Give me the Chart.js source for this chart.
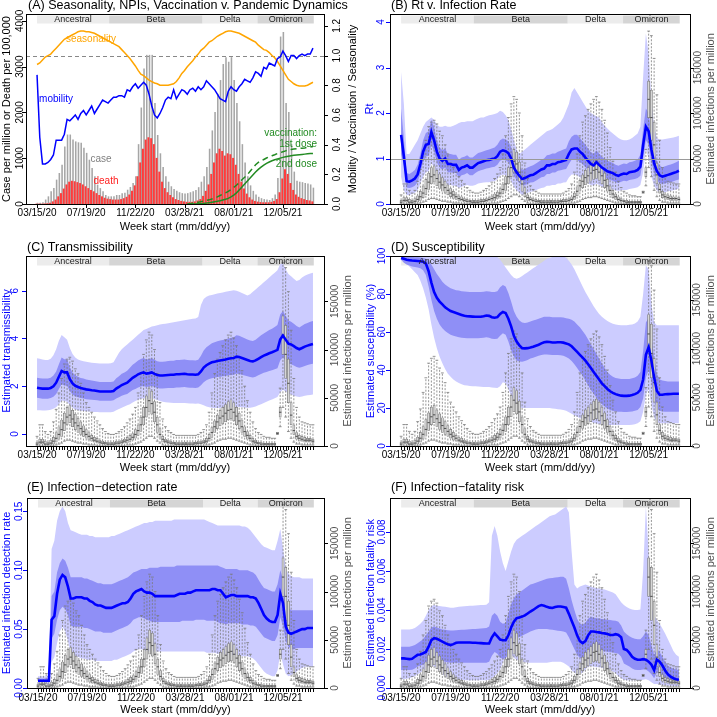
<!DOCTYPE html>
<html><head><meta charset="utf-8">
<script src="https://cdn.jsdelivr.net/npm/chart.js@4"></script>
<style>
html,body{margin:0;padding:0;background:#fff;width:717px;height:717px;overflow:hidden;}
canvas{position:absolute;left:0;top:0;}
</style></head><body>
<canvas id="cA" width="717" height="717"></canvas>
<canvas id="cB" width="717" height="717"></canvas>
<canvas id="cC" width="717" height="717"></canvas>
<canvas id="cD" width="717" height="717"></canvas>
<canvas id="cE" width="717" height="717"></canvas>
<canvas id="cF" width="717" height="717"></canvas>
<script>
// ---------- categories / tick labels ----------
const weekTickPos = [0,18,36,54,72,90];
const weekTickLabels = ['03/15/20','07/19/20','11/22/20','03/28/21','08/01/21','12/05/21'];
const variantNames = ['Ancestral','Beta','Delta','Omicron'];
const variantStart = [0,26.4,60.6,80.7];
const variantEnd = [26.4,60.6,80.7,101.3];
const ticksA_left = [0,1000,2000,3000,4000];
const labelsA_left = ['0','1000','2000','3000','4000'];
const ticksA_right = [0,0.2,0.4,0.6,0.8,1.0,1.2];
const labelsA_right = ['0.0','0.2','0.4','0.6','0.8','1.0','1.2'];
const ticksInf = [0,50000,100000,150000];
const labelsInf = ['0','50000','100000','150000'];
const ticksRt = [0,1,2,3,4];
const labelsRt = ['0','1','2','3','4'];
const ticksTr = [0,2,4,6];
const labelsTr = ['0','2','4','6'];
const ticksSu = [0,20,40,60,80,100];
const labelsSu = ['0','20','40','60','80','100'];
const ticksId = [0,0.05,0.10,0.15];
const labelsId = ['0.00','0.05','0.10','0.15'];
const ticksIfr = [0,0.002,0.004,0.006,0.008];
const labelsIfr = ['0.000','0.002','0.004','0.006','0.008'];

// ---------- Panel A series ----------
const caseBars = [20,20,30,90,160,270,340,525,670,850,
1250,1510,1510,1400,1360,1340,1330,1220,1110,960,
780,600,415,340,270,190,160,160,160,190,
190,230,240,305,365,450,600,1300,2100,2950,
3250,3250,3250,2200,1500,1100,800,600,480,380,
320,280,250,230,220,230,250,270,300,360,
480,600,800,1200,1600,2000,2400,2700,3050,3200,
3100,3200,2700,2200,1800,1300,900,600,400,280,
200,150,120,100,90,80,120,200,560,3650,
3750,2200,2000,1300,700,500,480,470,450,440,
420,350];
const deathBars = [0,0,0,5,10,20,50,90,160,230,
330,420,480,500,490,470,450,420,380,340,
300,270,230,190,160,130,110,100,90,90,
90,100,120,150,200,280,400,600,900,1200,
1400,1450,1430,1300,1000,700,480,340,250,190,
140,100,80,60,50,40,40,40,50,70,
100,170,280,420,650,900,1100,1200,1150,1050,
1100,1080,1000,850,650,480,330,220,140,90,
60,45,35,30,30,30,40,60,100,250,
550,750,650,450,300,200,150,120,100,80,
70,50];
const seasonality = [0.94,0.95,0.97,0.99,1.00,1.01,1.03,1.05,1.07,1.09,
1.11,1.12,1.13,1.14,1.15,1.16,1.165,1.165,1.16,1.16,
1.155,1.15,1.14,1.13,1.12,1.11,1.10,1.09,1.08,1.07,
1.06,1.04,1.02,1.00,0.98,0.955,0.93,0.90,0.875,0.865,
0.85,0.835,0.825,0.815,0.81,0.80,0.80,0.80,0.80,0.805,
0.81,0.825,0.85,0.88,0.90,0.925,0.945,0.965,0.99,1.01,
1.035,1.05,1.07,1.09,1.10,1.115,1.13,1.14,1.15,1.16,
1.165,1.165,1.16,1.155,1.15,1.14,1.13,1.12,1.11,1.10,
1.09,1.07,1.055,1.04,1.035,1.02,1.00,0.985,0.96,0.93,
0.90,0.87,0.84,0.825,0.81,0.80,0.795,0.795,0.795,0.80,
0.81,0.82];
const mobility = [0.87,0.45,0.27,0.27,0.28,0.30,0.33,0.43,0.43,0.43,
0.47,0.57,0.56,0.58,0.60,0.57,0.61,0.63,0.60,0.63,
0.66,0.61,0.64,0.67,0.70,0.69,0.68,0.70,0.72,0.72,
0.73,0.73,0.72,0.77,0.76,0.79,0.81,0.78,0.80,0.82,
0.80,0.74,0.66,0.60,0.58,0.61,0.65,0.70,0.72,0.71,
0.77,0.71,0.74,0.77,0.76,0.74,0.77,0.78,0.76,0.79,
0.77,0.79,0.83,0.81,0.79,0.77,0.74,0.71,0.70,0.69,
0.76,0.79,0.77,0.76,0.79,0.81,0.84,0.83,0.82,0.85,
0.89,0.88,0.86,0.92,0.91,0.95,0.94,0.93,0.98,0.99,
1.03,1.00,0.96,1.00,1.00,0.98,1.00,1.01,1.00,1.01,
1.01,1.05];
const vaccStartWeek = 55;
const vaccFirst = [0,0.002,0.005,0.008,0.012,0.016,0.02,0.024,0.028,0.034,
0.04,0.048,0.057,0.066,0.075,0.085,0.098,0.112,0.126,0.145,
0.163,0.18,0.198,0.22,0.243,0.265,0.28,0.29,0.30,0.31,
0.318,0.325,0.332,0.34,0.346,0.352,0.358,0.363,0.367,0.37,
0.372,0.374,0.376,0.378,0.381,0.384,0.387];
const vaccSecond = [0,0,0,0,0.001,0.002,0.004,0.006,0.009,0.012,
0.015,0.018,0.022,0.027,0.032,0.038,0.048,0.06,0.075,0.095,
0.115,0.135,0.155,0.175,0.195,0.215,0.233,0.248,0.262,0.274,
0.283,0.291,0.298,0.304,0.309,0.314,0.318,0.322,0.325,0.328,
0.33,0.332,0.334,0.336,0.338,0.34,0.341];

// ---------- estimated infections per million (boxplots, panels B-F) ----------
const infLo = [0,0,0,0,0,0,0,1000,2000,3000,
5000,6000,6000,5000,4000,3000,3000,2000,2000,1000,
1000,1000,0,0,0,0,0,0,0,0,
0,0,0,1000,1000,1000,2000,3000,4000,6000,
8000,10000,10000,8000,5000,3000,1000,0,0,0,
0,0,0,0,0,0,0,0,0,0,
0,0,1000,1000,2000,3000,5000,6000,7000,7000,
8000,8000,7000,6000,5000,4000,3000,2000,1000,1000,
0,0,0,0,0,0,0,0,12000,20000,
40000,30000,15000,8000,4000,2000,2000,1000,1000,1000,
1000,1000];
const infQ1 = [1000,2000,2000,1000,1000,1000,2000,4000,7000,10000,
16000,22000,24000,20000,17000,14000,12000,10000,8000,6000,
5000,4000,3000,2000,2000,1000,1000,1000,1000,1000,
2000,2000,3000,3000,4000,6000,8000,11000,15000,22000,
30000,35000,33000,25000,14000,8000,4000,3000,2000,2000,
1000,1000,1000,1000,1000,1000,1000,1000,1000,2000,
2000,2000,3000,5000,9000,14000,18000,21000,23000,25000,
27000,28000,26000,22000,18000,14000,10000,7000,5000,3000,
2000,2000,1000,1000,1000,1000,1000,1000,13000,30000,
95000,70000,45000,22000,12000,7000,5000,5000,4000,4000,
4000,3000];
const infMed = [2000,4000,4000,2000,2000,3000,5000,8000,12000,17000,
24000,30000,32000,28000,24000,21000,18000,15000,12000,10000,
8000,6000,5000,4000,3000,3000,2000,2000,2000,3000,
3000,4000,5000,6000,7000,9000,12000,16000,22000,30000,
40000,47000,44000,35000,22000,12000,7000,5000,4000,3000,
3000,2000,2000,2000,2000,2000,2000,2000,3000,3000,
3000,4000,5000,8000,14000,20000,25000,29000,31000,34000,
37000,38000,35000,31000,26000,20000,15000,11000,8000,5000,
4000,3000,2000,2000,2000,2000,2000,2000,13000,35000,
115000,95000,65000,32000,16000,10000,8000,7000,6000,6000,
6000,5000];
const infQ3 = [4000,7000,7000,5000,4000,6000,9000,14000,20000,27000,
34000,40000,42000,37000,33000,29000,25000,21000,17000,14000,
11000,9000,8000,6000,5000,4000,4000,4000,4000,5000,
5000,6000,7000,9000,11000,13000,17000,22000,30000,40000,
52000,60000,57000,46000,30000,18000,10000,7000,6000,5000,
4000,4000,4000,4000,4000,4000,4000,4000,4000,5000,
5000,6000,8000,12000,19000,26000,32000,37000,40000,43000,
46000,48000,45000,40000,34000,27000,20000,15000,11000,8000,
6000,4000,4000,3000,3000,3000,3000,3000,14000,40000,
135000,125000,90000,45000,22000,14000,11000,10000,9000,8000,
8000,7000];
const infHi = [10000,22000,22000,15000,12000,15000,25000,38000,55000,70000,
85000,90000,92000,88000,80000,75000,65000,55000,45000,40000,
35000,30000,26000,22000,18000,15000,13000,12000,12000,13000,
15000,17000,20000,24000,28000,33000,40000,55000,75000,95000,
110000,118000,115000,100000,75000,45000,28000,20000,16000,14000,
12000,11000,11000,11000,11000,11000,11000,11000,11000,12000,
14000,17000,22000,35000,55000,75000,90000,97000,104000,110000,
115000,118000,112000,104000,92000,78000,62000,47000,35000,25000,
18000,14000,12000,10000,9000,9000,8000,8000,14000,60000,
190000,185000,160000,120000,70000,40000,30000,25000,24000,23000,
22000,22000];

// ---------- Panel B: Rt ----------
const rtMed = [1.52,1.05,0.50,0.49,0.52,0.56,0.65,0.88,1.15,1.30,
1.32,1.58,1.40,1.15,1.00,0.95,1.00,0.88,0.88,0.86,
0.86,0.75,0.80,0.82,0.85,0.80,0.80,0.85,0.90,0.92,
0.94,0.96,0.97,0.99,1.00,1.05,1.15,1.18,1.16,1.12,
1.00,0.80,0.70,0.62,0.55,0.57,0.60,0.63,0.64,0.68,
0.72,0.76,0.78,0.85,0.85,0.88,0.88,0.92,0.93,0.95,
0.97,1.10,1.20,1.22,1.22,1.15,1.10,1.02,0.95,0.88,
0.85,0.92,0.86,0.80,0.76,0.72,0.70,0.68,0.64,0.62,
0.65,0.67,0.66,0.70,0.71,0.72,0.75,0.82,1.30,1.70,
1.60,1.20,0.90,0.72,0.63,0.60,0.62,0.64,0.66,0.68,
0.70,0.73];
const rtDarkHi = [2.10,1.45,0.68,0.66,0.70,0.75,0.86,1.10,1.40,1.56,
1.60,1.85,1.68,1.40,1.24,1.18,1.22,1.10,1.10,1.08,
1.08,0.97,1.02,1.04,1.07,1.02,1.02,1.07,1.12,1.14,
1.16,1.18,1.20,1.22,1.24,1.30,1.40,1.44,1.42,1.38,
1.25,1.03,0.92,0.83,0.75,0.77,0.80,0.83,0.85,0.89,
0.93,0.97,1.00,1.07,1.08,1.11,1.11,1.15,1.17,1.20,
1.22,1.38,1.48,1.52,1.52,1.45,1.38,1.30,1.22,1.14,
1.10,1.18,1.11,1.04,1.00,0.95,0.93,0.90,0.86,0.84,
0.87,0.89,0.88,0.92,0.93,0.95,0.98,1.08,1.65,2.10,
2.00,1.52,1.15,0.94,0.84,0.81,0.83,0.85,0.87,0.89,
0.92,0.95];
const rtDarkLo = [1.10,0.85,0.36,0.35,0.37,0.40,0.48,0.68,0.92,1.05,
1.06,1.30,1.15,0.92,0.80,0.76,0.80,0.70,0.70,0.68,
0.68,0.58,0.63,0.65,0.68,0.63,0.63,0.68,0.72,0.74,
0.76,0.78,0.79,0.81,0.82,0.86,0.95,0.98,0.96,0.92,
0.80,0.62,0.53,0.46,0.40,0.42,0.44,0.47,0.48,0.51,
0.55,0.59,0.60,0.66,0.66,0.69,0.69,0.73,0.74,0.76,
0.77,0.88,0.97,0.98,0.98,0.92,0.88,0.81,0.75,0.68,
0.66,0.72,0.67,0.61,0.58,0.55,0.53,0.51,0.48,0.46,
0.49,0.51,0.50,0.53,0.54,0.55,0.57,0.62,1.00,1.40,
1.30,0.92,0.68,0.53,0.46,0.44,0.45,0.47,0.48,0.50,
0.52,0.54];
const rtLightHi = [2.90,2.20,1.10,1.10,1.20,1.30,1.40,1.55,1.70,1.80,
1.85,1.90,1.85,1.75,1.70,1.70,1.72,1.70,1.70,1.72,
1.75,1.78,1.80,1.80,1.82,1.82,1.82,1.85,1.88,1.90,
1.90,1.93,1.95,1.96,1.98,2.00,2.05,2.02,1.95,1.85,
1.65,1.40,1.20,1.10,1.15,1.20,1.25,1.30,1.35,1.40,
1.45,1.50,1.55,1.60,1.62,1.65,1.70,1.75,1.80,1.90,
2.05,2.20,2.45,2.55,2.45,2.35,2.25,2.15,2.05,2.00,
1.96,1.93,1.90,1.80,1.72,1.66,1.60,1.55,1.50,1.45,
1.42,1.40,1.40,1.42,1.45,1.50,1.55,1.70,2.80,3.75,
3.30,2.30,1.70,1.45,1.42,1.42,1.43,1.44,1.45,1.46,
1.48,1.50];
const rtLightLo = [0.60,0.30,0.20,0.20,0.22,0.25,0.30,0.45,0.60,0.70,
0.72,0.90,0.80,0.60,0.50,0.45,0.48,0.42,0.42,0.40,
0.40,0.35,0.38,0.40,0.42,0.40,0.40,0.42,0.45,0.46,
0.47,0.48,0.48,0.50,0.50,0.55,0.62,0.65,0.63,0.60,
0.50,0.38,0.30,0.25,0.20,0.22,0.25,0.27,0.28,0.30,
0.33,0.35,0.36,0.40,0.40,0.42,0.42,0.45,0.45,0.47,
0.48,0.58,0.65,0.65,0.63,0.58,0.55,0.50,0.45,0.42,
0.40,0.45,0.42,0.38,0.36,0.34,0.33,0.32,0.30,0.29,
0.30,0.31,0.31,0.33,0.34,0.35,0.37,0.42,0.70,1.20,
1.00,0.60,0.40,0.30,0.25,0.24,0.26,0.28,0.29,0.30,
0.32,0.34];

// ---------- Panel C: transmissibility ----------
const trMed = [1.94,1.92,1.90,1.90,1.90,1.93,2.00,2.15,2.40,2.64,
2.58,2.58,2.30,2.12,2.02,1.97,1.93,1.90,1.87,1.85,
1.83,1.82,1.80,1.78,1.78,1.78,1.78,1.78,1.80,1.90,
1.97,2.05,2.10,2.15,2.25,2.35,2.42,2.50,2.55,2.58,
2.53,2.55,2.58,2.52,2.47,2.45,2.45,2.46,2.47,2.48,
2.48,2.50,2.50,2.51,2.52,2.50,2.49,2.49,2.48,2.50,
2.62,2.78,2.88,2.95,3.00,3.03,3.06,3.08,3.10,3.12,
3.15,3.17,3.18,3.24,3.22,3.18,3.14,3.10,3.06,3.04,
3.08,3.15,3.22,3.28,3.33,3.38,3.42,3.47,3.52,3.95,
4.12,3.95,3.78,3.75,3.68,3.60,3.55,3.60,3.66,3.70,
3.74,3.77];
const trDarkHi = [2.36,2.34,2.32,2.32,2.32,2.36,2.45,2.62,2.92,3.20,
3.13,3.12,2.80,2.58,2.46,2.40,2.35,2.32,2.28,2.26,
2.24,2.22,2.20,2.18,2.18,2.18,2.18,2.18,2.20,2.33,
2.42,2.52,2.58,2.65,2.77,2.90,2.98,3.08,3.14,3.18,
3.12,3.14,3.18,3.11,3.05,3.03,3.03,3.04,3.06,3.07,
3.07,3.10,3.10,3.11,3.12,3.10,3.09,3.09,3.08,3.11,
3.28,3.50,3.63,3.72,3.80,3.84,3.88,3.91,3.94,3.97,
4.00,4.03,4.05,4.13,4.11,4.06,4.01,3.96,3.91,3.89,
3.95,4.04,4.13,4.21,4.28,4.35,4.41,4.48,4.56,5.00,
5.15,4.95,4.75,4.70,4.62,4.52,4.46,4.53,4.60,4.65,
4.70,4.73];
const trDarkLo = [1.52,1.50,1.48,1.48,1.48,1.51,1.56,1.68,1.88,2.08,
2.03,2.02,1.80,1.66,1.58,1.54,1.51,1.49,1.46,1.45,
1.43,1.42,1.41,1.39,1.39,1.39,1.39,1.39,1.41,1.49,
1.54,1.60,1.64,1.68,1.76,1.84,1.89,1.95,1.99,2.01,
1.97,1.99,2.01,1.97,1.93,1.91,1.91,1.92,1.93,1.93,
1.93,1.95,1.95,1.96,1.97,1.95,1.94,1.94,1.93,1.95,
2.04,2.17,2.25,2.30,2.34,2.36,2.39,2.40,2.42,2.43,
2.46,2.47,2.48,2.53,2.51,2.48,2.45,2.42,2.39,2.37,
2.40,2.46,2.51,2.56,2.60,2.64,2.67,2.71,2.75,3.08,
3.21,3.08,2.95,2.92,2.87,2.81,2.77,2.81,2.85,2.89,
2.92,2.94];
const trLightHi = [3.17,3.15,3.12,3.10,3.10,3.15,3.30,3.55,3.90,4.14,
4.05,3.95,3.60,3.35,3.20,3.12,3.08,3.05,3.02,3.00,
2.98,2.97,2.96,2.95,2.95,2.95,2.95,2.96,3.00,3.20,
3.40,3.55,3.65,3.75,3.85,3.95,4.05,4.15,4.25,4.35,
4.40,4.45,4.50,4.52,4.55,4.58,4.60,4.62,4.64,4.66,
4.68,4.70,4.72,4.74,4.76,4.78,4.80,4.82,4.84,4.90,
5.40,5.65,5.75,5.80,5.82,5.85,5.88,5.90,5.92,5.95,
5.97,6.00,6.02,6.00,5.95,5.90,5.85,5.80,5.85,5.95,
6.05,6.15,6.25,6.35,6.45,6.55,6.65,6.75,6.85,7.10,
7.15,6.90,6.70,6.60,6.50,6.40,6.45,6.55,6.62,6.68,
6.72,6.75];
const trLightLo = [1.00,1.00,0.99,0.99,1.00,1.02,1.06,1.12,1.25,1.40,
1.38,1.35,1.20,1.10,1.03,1.00,0.98,0.96,0.95,0.94,
0.93,0.92,0.92,0.91,0.91,0.91,0.91,0.91,0.93,1.00,
1.05,1.10,1.15,1.20,1.25,1.32,1.38,1.43,1.47,1.50,
1.48,1.48,1.50,1.47,1.42,1.38,1.35,1.33,1.32,1.31,
1.30,1.30,1.30,1.30,1.30,1.29,1.28,1.28,1.27,1.28,
1.25,1.20,1.15,1.12,1.10,1.09,1.09,1.09,1.10,1.10,
1.11,1.12,1.13,1.14,1.13,1.12,1.11,1.10,1.10,1.12,
1.15,1.20,1.25,1.30,1.35,1.40,1.45,1.50,1.55,1.75,
1.85,1.78,1.70,1.65,1.60,1.57,1.55,1.57,1.60,1.62,
1.63,1.65];

// ---------- Panel D: susceptibility ----------
const suMed = [99.0,98.5,98.0,97.8,97.6,97.5,97.4,97.2,97.0,96.0,
92.0,86.0,81.0,78.0,76.0,74.5,73.0,72.0,71.0,70.5,
70.0,69.5,69.0,68.5,68.3,68.2,68.1,68.0,68.0,68.0,
68.3,68.7,68.5,67.8,67.5,67.8,69.5,70.5,70.0,67.0,
63.0,58.0,55.0,53.0,51.5,51.4,51.5,51.8,52.2,52.8,
53.3,54.0,54.6,54.8,54.7,54.5,54.5,54.6,54.6,54.4,
54.0,53.5,52.5,51.0,49.5,48.0,46.5,45.0,43.0,41.0,
39.0,37.0,35.0,33.0,31.5,30.0,28.8,28.0,27.3,26.8,
26.5,26.4,26.4,26.5,26.8,27.3,28.0,29.5,35.0,48.0,
52.0,45.0,36.0,29.0,27.0,27.0,27.2,27.3,27.4,27.5,
27.5,27.5];
const suDarkHi = [100,100,99.8,99.6,99.5,99.4,99.3,99.2,99.0,98.5,
97.5,95.5,93.0,90.5,88.5,86.5,85.0,84.0,83.0,82.5,
82.0,81.8,81.5,81.3,81.2,81.0,81.0,81.0,81.0,81.0,
81.2,81.5,81.3,81.0,81.0,81.5,83.5,84.7,84.0,80.5,
76.0,71.0,68.0,66.0,65.0,64.8,65.0,65.5,66.0,66.5,
67.0,67.5,68.0,68.0,68.0,67.8,67.8,67.8,67.8,67.6,
67.3,67.0,66.5,65.5,64.0,62.5,60.5,58.5,56.0,53.5,
51.0,48.5,46.0,43.5,41.0,39.0,37.5,36.5,35.8,35.5,
35.3,35.2,35.2,35.3,35.6,36.0,37.0,39.0,50.0,65.0,
67.5,58.0,46.0,38.0,35.0,34.5,34.2,34.0,34.0,34.0,
34.0,34.0];
const suDarkLo = [98.0,96.5,95.5,95.0,94.5,94.2,94.0,93.5,92.5,90.0,
84.0,77.0,71.0,67.0,64.0,62.0,60.5,59.5,58.5,58.0,
57.6,57.2,57.0,56.8,56.7,56.7,56.7,56.7,56.7,56.8,
57.0,57.3,57.0,56.5,56.3,56.5,58.0,59.3,58.5,55.0,
50.5,47.0,45.0,44.5,44.4,44.8,45.3,46.0,46.5,47.0,
47.5,47.9,48.2,48.2,48.0,47.9,47.9,47.9,47.8,47.5,
46.8,46.0,44.8,43.0,41.0,39.0,37.0,34.5,32.0,29.5,
27.5,25.5,23.5,22.0,20.8,19.8,19.0,18.5,18.2,18.0,
18.0,17.9,17.9,18.0,18.2,18.5,19.0,20.5,25.0,36.0,
40.0,34.0,25.0,19.5,18.5,18.2,18.0,18.0,18.0,18.0,
18.0,18.0];
const suLightHi = [100,100,100,100,100,100,100,100,100,100,
100,100,100,100,100,100,100,100,100,100,
100,100,100,100,100,100,100,100,100,100,
100,100,100,100,100,99.5,98.0,96.0,94.0,92.0,
90.0,88.5,88.0,88.5,89.5,90.5,91.5,92.5,93.5,94.5,
95.5,96.5,97.5,98.5,99.0,99.5,100,100,100,100,
99.0,97.5,95.5,93.0,90.0,87.0,84.0,81.0,78.5,76.0,
73.5,71.5,69.5,68.0,66.8,65.8,65.0,64.4,64.0,63.7,
63.5,63.5,63.6,63.8,64.0,64.5,65.5,68.0,80.0,95.0,
93.0,75.0,65.0,63.5,63.5,63.5,63.5,63.5,63.5,63.5,
63.5,63.5];
const suLightLo = [98.5,97.5,96.0,94.5,93.0,91.5,90.0,87.0,83.0,78.0,
72.0,64.0,57.0,51.5,47.0,43.5,40.5,38.0,36.5,35.0,
34.0,33.2,32.5,32.0,31.8,31.6,31.5,31.4,31.3,31.2,
31.1,31.0,31.0,30.8,30.6,30.5,31.5,33.5,33.0,30.0,
26.5,23.5,21.5,20.5,20.0,20.0,20.0,20.0,20.0,20.0,
20.0,20.0,20.0,20.0,20.0,19.8,19.6,19.4,19.2,19.0,
18.5,17.8,17.0,16.2,15.4,14.8,14.2,13.6,13.0,12.6,
12.2,11.9,11.6,11.4,11.2,11.1,11.0,11.0,11.0,11.0,
11.0,11.0,11.0,11.0,11.2,11.5,12.0,13.0,18.0,27.0,
30.0,22.0,15.0,12.5,12.0,12.0,12.0,12.0,12.0,12.0,
12.0,12.0];

// ---------- Panel E: infection-detection rate ----------
const idMed = [0.0062,0.0062,0.0062,0.0062,0.0062,0.058,0.061,0.080,0.092,0.096,
0.094,0.086,0.076,0.076,0.077,0.077,0.077,0.076,0.076,0.074,
0.073,0.071,0.070,0.070,0.069,0.068,0.068,0.068,0.069,0.070,
0.071,0.072,0.072,0.073,0.076,0.080,0.082,0.083,0.084,0.082,
0.081,0.081,0.080,0.078,0.078,0.078,0.078,0.078,0.078,0.078,
0.078,0.079,0.080,0.080,0.080,0.081,0.081,0.082,0.083,0.083,
0.083,0.083,0.083,0.083,0.084,0.084,0.083,0.083,0.080,0.077,
0.078,0.079,0.079,0.078,0.078,0.078,0.078,0.078,0.077,0.077,
0.076,0.072,0.067,0.062,0.059,0.057,0.056,0.056,0.062,0.080,
0.072,0.052,0.047,0.046,0.047,0.048,0.049,0.050,0.050,0.051,
0.051,0.051];
const idDarkHi = [0.008,0.008,0.008,0.008,0.008,0.078,0.082,0.098,0.106,0.110,
0.108,0.102,0.094,0.094,0.094,0.094,0.094,0.093,0.093,0.092,
0.091,0.090,0.089,0.089,0.088,0.088,0.088,0.088,0.089,0.090,
0.091,0.092,0.093,0.094,0.096,0.098,0.099,0.100,0.101,0.101,
0.101,0.102,0.102,0.102,0.102,0.103,0.103,0.103,0.103,0.103,
0.103,0.104,0.104,0.104,0.104,0.104,0.104,0.104,0.104,0.104,
0.104,0.104,0.104,0.104,0.104,0.104,0.104,0.103,0.102,0.101,
0.101,0.101,0.101,0.101,0.100,0.100,0.100,0.100,0.099,0.098,
0.096,0.092,0.088,0.085,0.084,0.083,0.082,0.082,0.088,0.100,
0.092,0.075,0.068,0.066,0.066,0.066,0.066,0.066,0.066,0.066,
0.066,0.066];
const idDarkLo = [0.005,0.005,0.005,0.005,0.005,0.042,0.046,0.058,0.066,0.069,
0.067,0.062,0.053,0.052,0.052,0.052,0.052,0.051,0.051,0.050,
0.049,0.048,0.048,0.048,0.047,0.047,0.047,0.047,0.048,0.049,
0.050,0.051,0.052,0.053,0.055,0.058,0.059,0.060,0.060,0.059,
0.058,0.057,0.056,0.056,0.056,0.056,0.056,0.056,0.056,0.056,
0.056,0.056,0.056,0.057,0.057,0.057,0.057,0.057,0.058,0.058,
0.058,0.058,0.057,0.057,0.057,0.057,0.056,0.055,0.055,0.054,
0.055,0.055,0.055,0.055,0.055,0.054,0.054,0.054,0.053,0.053,
0.052,0.049,0.046,0.043,0.042,0.041,0.040,0.040,0.045,0.060,
0.052,0.040,0.035,0.033,0.033,0.034,0.034,0.034,0.034,0.034,
0.034,0.034];
const idLightHi = [0.010,0.010,0.010,0.010,0.010,0.118,0.125,0.142,0.150,0.154,
0.150,0.140,0.134,0.133,0.132,0.131,0.130,0.130,0.130,0.129,
0.129,0.128,0.128,0.128,0.128,0.128,0.128,0.129,0.129,0.130,
0.131,0.132,0.133,0.134,0.135,0.136,0.137,0.138,0.139,0.140,
0.140,0.141,0.141,0.142,0.142,0.142,0.142,0.142,0.142,0.142,
0.143,0.143,0.143,0.143,0.143,0.143,0.143,0.143,0.143,0.143,
0.143,0.143,0.142,0.141,0.140,0.139,0.138,0.138,0.138,0.138,
0.138,0.138,0.138,0.138,0.138,0.137,0.137,0.136,0.134,0.131,
0.128,0.125,0.122,0.120,0.119,0.118,0.117,0.117,0.125,0.135,
0.118,0.102,0.097,0.095,0.094,0.094,0.094,0.093,0.093,0.093,
0.093,0.093];
const idLightLo = [0.003,0.003,0.003,0.003,0.003,0.022,0.026,0.038,0.048,0.052,
0.048,0.040,0.030,0.028,0.027,0.026,0.025,0.025,0.024,0.024,
0.024,0.023,0.023,0.023,0.023,0.023,0.023,0.023,0.024,0.024,
0.025,0.026,0.027,0.028,0.029,0.031,0.032,0.033,0.033,0.032,
0.031,0.031,0.031,0.031,0.031,0.031,0.031,0.031,0.031,0.031,
0.031,0.031,0.031,0.031,0.031,0.031,0.031,0.031,0.031,0.031,
0.031,0.031,0.030,0.030,0.030,0.030,0.029,0.029,0.029,0.028,
0.028,0.028,0.028,0.028,0.027,0.027,0.027,0.027,0.026,0.025,
0.023,0.020,0.017,0.014,0.012,0.011,0.010,0.010,0.015,0.030,
0.020,0.012,0.010,0.011,0.012,0.014,0.016,0.017,0.018,0.018,
0.018,0.018];

// ---------- Panel F: infection-fatality risk ----------
const ifrMed = [0.00152,0.00152,0.00150,0.00148,0.00150,0.00160,0.00170,0.00172,0.00178,0.00185,
0.00212,0.00245,0.00255,0.00252,0.00245,0.00238,0.00230,0.00224,0.00220,0.00225,
0.00232,0.00233,0.00233,0.00233,0.00233,0.00233,0.00232,0.00232,0.00231,0.00230,
0.00229,0.00228,0.00228,0.00260,0.00280,0.00265,0.00248,0.00245,0.00245,0.00270,
0.00310,0.00340,0.00358,0.00362,0.00366,0.00372,0.00382,0.00392,0.00400,0.00410,
0.00420,0.00425,0.00422,0.00416,0.00412,0.00410,0.00415,0.00418,0.00418,0.00415,
0.00412,0.00380,0.00345,0.00310,0.00270,0.00240,0.00230,0.00240,0.00270,0.00290,
0.00290,0.00287,0.00285,0.00282,0.00280,0.00277,0.00272,0.00272,0.00276,0.00272,
0.00260,0.00200,0.00195,0.00180,0.00160,0.00150,0.00145,0.00145,0.00148,0.00145,
0.00135,0.00120,0.00092,0.00145,0.00135,0.00115,0.00090,0.00070,0.00058,0.00050,
0.00045,0.00042];
const ifrDarkHi = [0.00212,0.00212,0.00212,0.00212,0.00215,0.00220,0.00230,0.00240,0.00250,0.00270,
0.00290,0.00310,0.00315,0.00310,0.00305,0.00300,0.00298,0.00296,0.00295,0.00295,
0.00296,0.00297,0.00298,0.00299,0.00300,0.00301,0.00302,0.00303,0.00304,0.00305,
0.00306,0.00307,0.00315,0.00370,0.00385,0.00370,0.00340,0.00330,0.00335,0.00380,
0.00430,0.00460,0.00480,0.00490,0.00500,0.00510,0.00520,0.00530,0.00535,0.00540,
0.00545,0.00550,0.00555,0.00560,0.00562,0.00564,0.00566,0.00568,0.00570,0.00570,
0.00560,0.00510,0.00450,0.00400,0.00355,0.00330,0.00325,0.00335,0.00355,0.00365,
0.00360,0.00358,0.00356,0.00354,0.00352,0.00350,0.00348,0.00346,0.00345,0.00340,
0.00320,0.00290,0.00275,0.00265,0.00258,0.00252,0.00250,0.00250,0.00265,0.00290,
0.00270,0.00220,0.00170,0.00200,0.00185,0.00160,0.00135,0.00115,0.00105,0.00100,
0.00095,0.00092];
const ifrDarkLo = [0.00092,0.00092,0.00092,0.00092,0.00094,0.00100,0.00110,0.00115,0.00120,0.00130,
0.00145,0.00160,0.00165,0.00160,0.00150,0.00140,0.00135,0.00132,0.00130,0.00130,
0.00130,0.00130,0.00130,0.00130,0.00130,0.00130,0.00130,0.00130,0.00130,0.00130,
0.00130,0.00130,0.00135,0.00165,0.00185,0.00175,0.00155,0.00150,0.00150,0.00175,
0.00215,0.00240,0.00255,0.00262,0.00268,0.00275,0.00282,0.00290,0.00295,0.00300,
0.00302,0.00303,0.00303,0.00302,0.00300,0.00298,0.00296,0.00294,0.00292,0.00290,
0.00285,0.00260,0.00230,0.00200,0.00170,0.00155,0.00150,0.00160,0.00180,0.00190,
0.00192,0.00192,0.00190,0.00189,0.00188,0.00186,0.00184,0.00182,0.00180,0.00175,
0.00160,0.00125,0.00118,0.00110,0.00100,0.00094,0.00092,0.00092,0.00095,0.00095,
0.00085,0.00070,0.00050,0.00080,0.00075,0.00060,0.00050,0.00040,0.00032,0.00028,
0.00025,0.00022];
const ifrLightHi = [0.00300,0.00300,0.00300,0.00300,0.00302,0.00308,0.00318,0.00330,0.00345,0.00370,
0.00400,0.00420,0.00425,0.00422,0.00420,0.00418,0.00416,0.00414,0.00412,0.00412,
0.00414,0.00416,0.00418,0.00419,0.00420,0.00421,0.00422,0.00423,0.00424,0.00425,
0.00426,0.00427,0.00440,0.00780,0.00830,0.00780,0.00700,0.00640,0.00600,0.00650,
0.00700,0.00740,0.00760,0.00770,0.00780,0.00790,0.00800,0.00810,0.00820,0.00830,
0.00840,0.00850,0.00860,0.00870,0.00880,0.00885,0.00890,0.00900,0.00910,0.00920,
0.00930,0.00900,0.00700,0.00530,0.00510,0.00520,0.00525,0.00530,0.00525,0.00520,
0.00515,0.00512,0.00510,0.00508,0.00505,0.00500,0.00495,0.00490,0.00480,0.00460,
0.00440,0.00425,0.00415,0.00408,0.00403,0.00400,0.00400,0.00402,0.00600,0.00930,
0.00700,0.00420,0.00370,0.00350,0.00330,0.00305,0.00280,0.00250,0.00220,0.00190,
0.00170,0.00160];
const ifrLightLo = [0.00045,0.00045,0.00048,0.00050,0.00055,0.00060,0.00070,0.00080,0.00090,0.00100,
0.00110,0.00115,0.00112,0.00100,0.00085,0.00070,0.00060,0.00055,0.00050,0.00047,
0.00045,0.00043,0.00042,0.00041,0.00040,0.00040,0.00040,0.00040,0.00040,0.00040,
0.00040,0.00040,0.00042,0.00050,0.00060,0.00075,0.00095,0.00130,0.00170,0.00180,
0.00170,0.00155,0.00145,0.00140,0.00135,0.00132,0.00130,0.00130,0.00130,0.00130,
0.00130,0.00130,0.00130,0.00130,0.00132,0.00134,0.00135,0.00135,0.00134,0.00130,
0.00120,0.00110,0.00090,0.00080,0.00070,0.00070,0.00080,0.00095,0.00110,0.00112,
0.00110,0.00108,0.00106,0.00104,0.00100,0.00095,0.00090,0.00085,0.00075,0.00060,
0.00050,0.00042,0.00040,0.00040,0.00040,0.00040,0.00040,0.00040,0.00042,0.00045,
0.00040,0.00030,0.00020,0.00020,0.00018,0.00016,0.00014,0.00012,0.00011,0.00010,
0.00010,0.00010];

// ---------- drawing ----------
const FONT = '"Liberation Sans", Arial, Helvetica, sans-serif';
const LIGHT = '#ccccff';
const DARK = '#8f8ff6';
const BLUE = '#0000ff';
const GREYTXT = '#505050';

function xy(arr, start) { const s = start || 0; return arr.map((v, i) => ({x: s + i, y: v})); }

const PANELS = {
  cA: {area:[26,14,324,204], y:[0,4150], y2:[0,1.28],
    left:{ticks:ticksA_left, labels:labelsA_left, color:'#000', labelX:20, title:'Case per million or Death per 100,000', titleX:7, titleColor:'#000'},
    right:{ticks:ticksA_right, labels:labelsA_right, color:'#000', labelX:337, title:'Mobility / Vaccination / Seasonality', titleX:353, titleColor:'#000'},
    xLabelY:213, xTitleY:227, weekly:false,
    title:'(A) Seasonality, NPIs, Vaccination v. Pandemic Dynamics', titleX:28, titleEnd:348, titleY:6,
    ref:{axis:'y2', value:1, color:'#888', dash:[4,3], back:true},
    notes:[{t:'seasonality',x:91,y:39,c:'#ffa500',a:'center'},{t:'mobility',x:56,y:99,c:BLUE,a:'center'},
           {t:'case',x:101,y:159,c:'#808080',a:'center'},{t:'death',x:106,y:181,c:'#ff2020',a:'center'},
           {t:'vaccination:',x:317,y:133,c:'#228b22',a:'right'},{t:'1st dose',x:317,y:144,c:'#228b22',a:'right'},
           {t:'2nd dose',x:317,y:164,c:'#228b22',a:'right'}]},
  cB: {area:[390,14,690,204], y:[0,4.176], y2:[0,208800],
    left:{ticks:ticksRt, labels:labelsRt, color:BLUE, labelX:381, title:'Rt', titleX:370, titleColor:BLUE},
    right:{ticks:ticksInf, labels:labelsInf, color:GREYTXT, labelX:698, title:'Estimated infections per million', titleX:711, titleColor:GREYTXT},
    xLabelY:213, xTitleY:227, weekly:true,
    title:'(B) Rt v. Infection Rate', titleX:391, titleY:6,
    ref:{axis:'y', value:1, color:'#999', dash:[], back:false}},
  cC: {area:[26,256,324,446], y:[-0.5,7.45], y2:[0,197000],
    left:{ticks:ticksTr, labels:labelsTr, color:BLUE, labelX:15, title:'Estimated transmissibility', titleX:7, titleColor:BLUE},
    right:{ticks:ticksInf, labels:labelsInf, color:GREYTXT, labelX:335, title:'Estimated infections per million', titleX:348, titleColor:GREYTXT},
    xLabelY:455, xTitleY:468, weekly:true,
    title:'(C) Transmissibility', titleX:27, titleY:248},
  cD: {area:[390,256,690,446], y:[0,100], y2:[0,195000],
    left:{ticks:ticksSu, labels:labelsSu, color:BLUE, labelX:382, title:'Estimated susceptibility (%)', titleX:371, titleColor:BLUE},
    right:{ticks:ticksInf, labels:labelsInf, color:GREYTXT, labelX:697, title:'Estimated infections per million', titleX:711, titleColor:GREYTXT},
    xLabelY:455, xTitleY:468, weekly:true,
    title:'(D) Susceptibility', titleX:391, titleY:248},
  cE: {area:[27,498,324,688], y:[0,0.1613], y2:[0,197000],
    left:{ticks:ticksId, labels:labelsId, color:BLUE, labelX:19, title:'Estimated infection detection rate', titleX:7, titleColor:BLUE},
    right:{ticks:ticksInf, labels:labelsInf, color:GREYTXT, labelX:335, title:'Estimated infections per million', titleX:348, titleColor:GREYTXT},
    xLabelY:698, xTitleY:710, weekly:true,
    title:'(E) Infection\u2212detection rate', titleX:27, titleY:488},
  cF: {area:[390,498,690,688], y:[0,0.00974], y2:[0,197000],
    left:{ticks:ticksIfr, labels:labelsIfr, color:BLUE, labelX:382, title:'Estimated infection fatality risk', titleX:371, titleColor:BLUE},
    right:{ticks:ticksInf, labels:labelsInf, color:GREYTXT, labelX:697, title:'Estimated infections per million', titleX:711, titleColor:GREYTXT},
    xLabelY:698, xTitleY:710, weekly:true,
    title:'(F) Infection\u2212fatality risk', titleX:391, titleY:488}
};

function vtext(ctx, txt, x, y) {
  ctx.save(); ctx.translate(x, y); ctx.rotate(-Math.PI / 2); ctx.fillText(txt, 0, 0); ctx.restore();
}

const rdecor = {
  id: 'rdecor',
  beforeDatasetsDraw(chart) {
    const P = PANELS[chart.canvas.id];
    const ctx = chart.ctx, a = chart.chartArea, sx = chart.scales.x;
    ctx.save();
    for (let i = 0; i < variantNames.length; i++) {
      const x0 = sx.getPixelForValue(variantStart[i]), x1 = sx.getPixelForValue(variantEnd[i]);
      ctx.fillStyle = i % 2 === 0 ? '#ececec' : '#d5d5d5';
      ctx.fillRect(x0, a.top + 1.5, x1 - x0, 8);
    }
    if (P.ref && P.ref.back) {
      const yy = Math.round(chart.scales[P.ref.axis].getPixelForValue(P.ref.value)) + 0.5;
      ctx.strokeStyle = P.ref.color; ctx.lineWidth = 1; ctx.setLineDash(P.ref.dash);
      ctx.beginPath(); ctx.moveTo(a.left, yy); ctx.lineTo(a.right, yy); ctx.stroke();
    }
    ctx.restore();
  },
  afterDatasetsDraw(chart) {
    const P = PANELS[chart.canvas.id];
    const ctx = chart.ctx, a = chart.chartArea, sx = chart.scales.x, sy = chart.scales.y, sy2 = chart.scales.y2;
    ctx.save();
    if (P.ref && !P.ref.back) {
      const yy = Math.round(chart.scales[P.ref.axis].getPixelForValue(P.ref.value)) + 0.5;
      ctx.strokeStyle = P.ref.color; ctx.lineWidth = 1; ctx.setLineDash(P.ref.dash);
      ctx.beginPath(); ctx.moveTo(a.left, yy); ctx.lineTo(a.right, yy); ctx.stroke();
      ctx.setLineDash([]);
    }
    ctx.font = '9px ' + FONT; ctx.fillStyle = '#222'; ctx.textAlign = 'center'; ctx.textBaseline = 'middle';
    for (let i = 0; i < variantNames.length; i++) {
      const x0 = sx.getPixelForValue(variantStart[i]), x1 = sx.getPixelForValue(variantEnd[i]);
      ctx.fillText(variantNames[i], (x0 + x1) / 2, a.top + 5.5);
    }
    ctx.strokeStyle = '#000'; ctx.lineWidth = 1;
    ctx.strokeRect(Math.round(a.left) + 0.5, Math.round(a.top) + 0.5, Math.round(a.right - a.left), Math.round(a.bottom - a.top));
    ctx.beginPath();
    const xt = [];
    if (P.weekly) { for (let w = 0; w < infMed.length; w++) xt.push(w); } else { weekTickPos.forEach(w => xt.push(w)); }
    xt.forEach(w => { const px = Math.round(sx.getPixelForValue(w)) + 0.5; ctx.moveTo(px, a.bottom); ctx.lineTo(px, a.bottom + 4); });
    ctx.stroke();
    ctx.fillStyle = '#000'; ctx.font = '10px ' + FONT; ctx.textAlign = 'center'; ctx.textBaseline = 'middle';
    weekTickPos.forEach((w, i) => ctx.fillText(weekTickLabels[i], sx.getPixelForValue(w), P.xLabelY));
    ctx.font = '11px ' + FONT;
    ctx.fillText('Week start (mm/dd/yy)', (a.left + a.right) / 2, P.xTitleY);
    const L = P.left;
    ctx.strokeStyle = L.color; ctx.beginPath();
    L.ticks.forEach(v => { const py = Math.round(sy.getPixelForValue(v)) + 0.5; ctx.moveTo(a.left, py); ctx.lineTo(a.left - 4, py); });
    ctx.stroke();
    ctx.fillStyle = L.color; ctx.font = '10px ' + FONT;
    L.ticks.forEach((v, i) => vtext(ctx, L.labels[i], L.labelX, sy.getPixelForValue(v)));
    ctx.fillStyle = L.titleColor; ctx.font = '11px ' + FONT;
    vtext(ctx, L.title, L.titleX, (a.top + a.bottom) / 2);
    const R = P.right;
    ctx.strokeStyle = '#000'; ctx.beginPath();
    R.ticks.forEach(v => { const py = Math.round(sy2.getPixelForValue(v)) + 0.5; ctx.moveTo(a.right, py); ctx.lineTo(a.right + 4, py); });
    ctx.stroke();
    ctx.fillStyle = R.color; ctx.font = '10px ' + FONT;
    R.ticks.forEach((v, i) => vtext(ctx, R.labels[i], R.labelX, sy2.getPixelForValue(v)));
    ctx.fillStyle = R.titleColor; ctx.font = '11px ' + FONT;
    vtext(ctx, R.title, R.titleX, (a.top + a.bottom) / 2);
    // panel title (A is fitted between its measured start and end)
    ctx.fillStyle = '#000'; ctx.textAlign = 'left';
    let fs = 12.5;
    ctx.font = fs + 'px ' + FONT;
    if (P.titleEnd) {
      const w = ctx.measureText(P.title).width;
      fs = fs * (P.titleEnd - P.titleX) / w;
      ctx.font = fs.toFixed(2) + 'px ' + FONT;
    }
    ctx.fillText(P.title, P.titleX, P.titleY);
    if (P.notes) {
      ctx.font = '10px ' + FONT;
      P.notes.forEach(n => { ctx.fillStyle = n.c; ctx.textAlign = n.a; ctx.fillText(n.t, n.x, n.y); });
    }
    ctx.restore();
  }
};

function baseOptions(id) {
  const P = PANELS[id];
  return {
    responsive: false, animation: false, events: [], devicePixelRatio: 1,
    layout: {padding: {left: P.area[0], top: P.area[1], right: 717 - P.area[2], bottom: 717 - P.area[3]}},
    plugins: {legend: {display: false}, tooltip: {enabled: false}},
    scales: {
      x: {type: 'linear', display: false, min: -4.04, max: 105.04, offset: false},
      y: {type: 'linear', display: false, min: P.y[0], max: P.y[1]},
      y2: {type: 'linear', display: false, position: 'right', min: P.y2[0], max: P.y2[1]}
    },
    elements: {point: {radius: 0}, line: {tension: 0}}
  };
}

function boxDatasets() {
  const whisk = [], caps = [], meds = [], boxes = [];
  for (let i = 0; i < infMed.length; i++) {
    whisk.push({x: i, y: infLo[i]}, {x: i, y: infQ1[i]}, {x: i, y: null}, {x: i, y: infQ3[i]}, {x: i, y: infHi[i]}, {x: i, y: null});
    caps.push({x: i, y: infHi[i]}, {x: i, y: infLo[i]});
    meds.push({x: i, y: infMed[i]});
    boxes.push({x: i, y: [infQ1[i], infQ3[i]]});
  }
  return [
    {type: 'line', data: whisk, yAxisID: 'y2', borderColor: '#7a7a7a', borderWidth: 0.8, borderDash: [2, 1.5], pointRadius: 0, spanGaps: false, fill: false, order: 8},
    {type: 'line', data: caps, yAxisID: 'y2', showLine: false, pointStyle: 'line', pointRadius: 1.4, pointBorderColor: '#7a7a7a', pointBorderWidth: 0.8, order: 7},
    {type: 'bar', data: boxes, yAxisID: 'y2', backgroundColor: '#d6d6d6', borderColor: '#7a7a7a', borderWidth: 0.7, borderSkipped: false, barThickness: 2.2, grouped: false, order: 6},
    {type: 'line', data: meds, yAxisID: 'y2', showLine: false, pointStyle: 'line', pointRadius: 1.2, pointBorderColor: '#555', pointBorderWidth: 1.1, order: 5}
  ];
}

function bandPanel(id, lightLo, lightHi, darkLo, darkHi, med) {
  const ds = [
    {type: 'line', data: xy(lightLo), borderWidth: 0, pointRadius: 0, fill: false, order: 20},
    {type: 'line', data: xy(lightHi), borderWidth: 0, pointRadius: 0, fill: '-1', backgroundColor: LIGHT, order: 19},
    {type: 'line', data: xy(darkLo), borderWidth: 0, pointRadius: 0, fill: false, order: 18},
    {type: 'line', data: xy(darkHi), borderWidth: 0, pointRadius: 0, fill: '-1', backgroundColor: DARK, order: 17}
  ].concat(boxDatasets()).concat([
    {type: 'line', data: xy(med), borderColor: BLUE, borderWidth: 2.6, pointRadius: 0, fill: false, order: 1}
  ]);
  new Chart(document.getElementById(id), {type: 'line', data: {datasets: ds}, options: baseOptions(id), plugins: [rdecor]});
}

// Panel A
new Chart(document.getElementById('cA'), {
  type: 'bar',
  data: {datasets: [
    {type: 'bar', data: xy(caseBars), yAxisID: 'y', backgroundColor: '#a6a6a6', barThickness: 0.9, order: 10},
    {type: 'bar', data: xy(deathBars), yAxisID: 'y', backgroundColor: '#ff3b3b', barThickness: 1.3, order: 9},
    {type: 'line', data: xy(seasonality), yAxisID: 'y2', borderColor: '#ffa500', borderWidth: 1.5, pointRadius: 0, fill: false, order: 4},
    {type: 'line', data: xy(vaccFirst, vaccStartWeek), yAxisID: 'y2', borderColor: '#228b22', borderWidth: 1.5, borderDash: [6, 4], pointRadius: 0, fill: false, order: 3},
    {type: 'line', data: xy(vaccSecond, vaccStartWeek), yAxisID: 'y2', borderColor: '#228b22', borderWidth: 1.5, pointRadius: 0, fill: false, order: 3},
    {type: 'line', data: xy(mobility), yAxisID: 'y2', borderColor: BLUE, borderWidth: 1.5, pointRadius: 0, fill: false, order: 2}
  ]},
  options: baseOptions('cA'),
  plugins: [rdecor]
});

bandPanel('cB', rtLightLo, rtLightHi, rtDarkLo, rtDarkHi, rtMed);
bandPanel('cC', trLightLo, trLightHi, trDarkLo, trDarkHi, trMed);
bandPanel('cD', suLightLo, suLightHi, suDarkLo, suDarkHi, suMed);
bandPanel('cE', idLightLo, idLightHi, idDarkLo, idDarkHi, idMed);
bandPanel('cF', ifrLightLo, ifrLightHi, ifrDarkLo, ifrDarkHi, ifrMed);
</script>
</body></html>
